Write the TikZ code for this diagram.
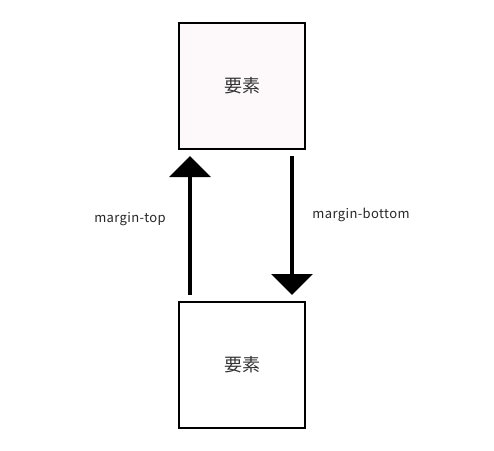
\documentclass[tikz,border=0pt]{standalone}
\usepackage{fontspec}
\setmainfont{Noto Sans CJK JP}
\newfontfamily\lblfont[LetterSpace=3]{Noto Sans CJK JP}
\usetikzlibrary{arrows.meta}
\definecolor{boxpink}{HTML}{FDF9FB}
\definecolor{txt}{HTML}{333333}
\tikzset{
  elem/.style={draw=black, line width=2pt, minimum width=126pt, minimum height=126pt, inner sep=0pt, font=\fontsize{18}{20}\selectfont, text=txt},
  bigarrow/.style={line width=4pt, -{Triangle[width=41pt,length=21pt]}, shorten <=6pt, shorten >=6pt},
  lbl/.style={font=\lblfont\fontsize{13}{15}\selectfont, text=black!85}
}
\begin{document}
\begin{tikzpicture}[x=1pt,y=-1pt]
\useasboundingbox (0,0) rectangle (494,450);
\node[elem, fill=boxpink] (top) at (242,86) {要素};
\node[elem, fill=white] (bot) at (242,365) {要素};
\draw[bigarrow] ([xshift=-52pt]bot.north) -- ([xshift=-52pt]top.south);
\draw[bigarrow] ([xshift=50pt]top.south) -- ([xshift=50pt]bot.north);
\node[lbl] (mt) at (130,219) {margin-top};
\node[lbl] (mb) at (361,215) {margin-bottom};
\end{tikzpicture}
\end{document}
